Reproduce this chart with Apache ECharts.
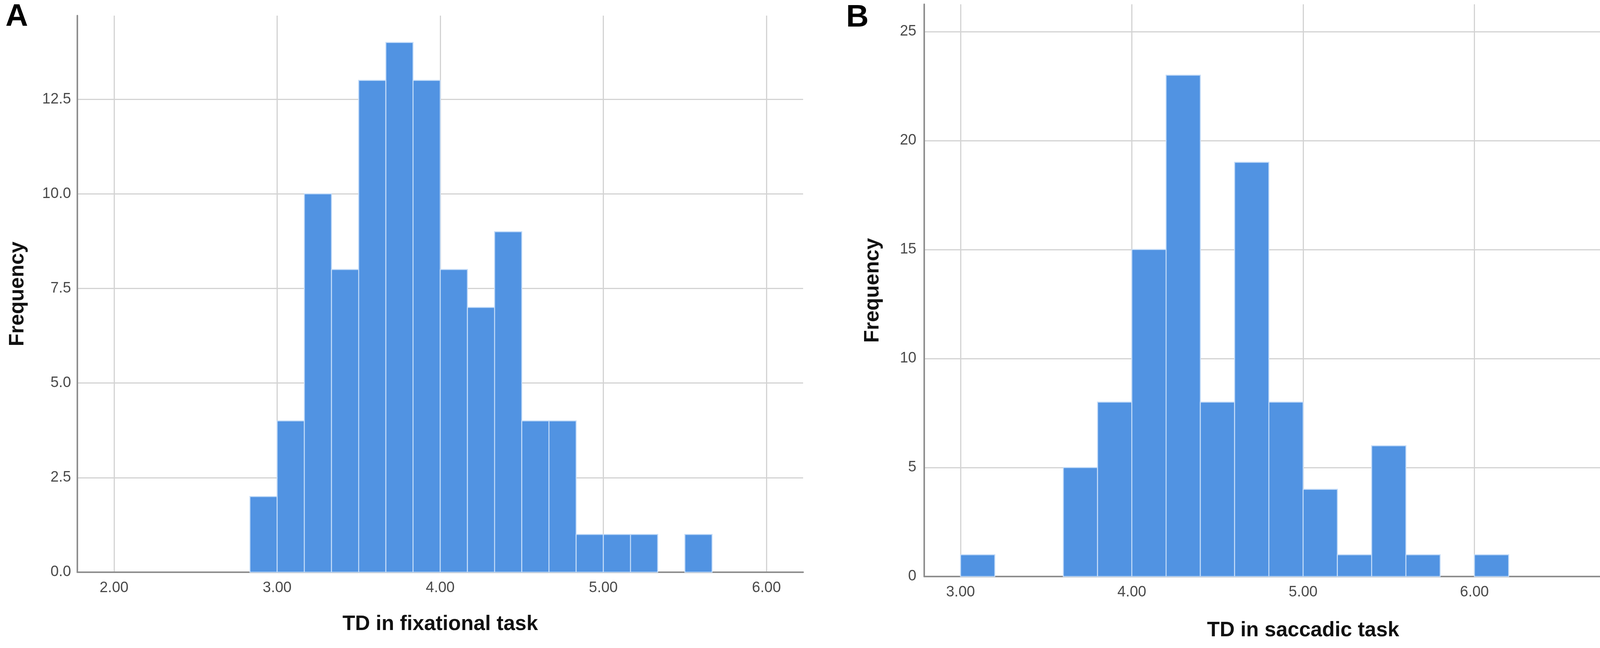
<!DOCTYPE html>
<html>
<head>
<meta charset="utf-8">
<script src="https://cdn.jsdelivr.net/npm/echarts@6/dist/echarts.min.js"></script>
<style>
  html, body { margin: 0; padding: 0; background: #fff; }
  #chart { width: 4328px; height: 1659px; }
</style>
</head>
<body>
<div id="chart"></div>
<script>
(function() {
  // --- data ---
  // A: fixational task, bin width 1/6
  var edgesA = [2.8333, 3.0, 3.1667, 3.3333, 3.5, 3.6667, 3.8333, 4.0, 4.1667,
                4.3333, 4.5, 4.6667, 4.8333, 5.0, 5.1667, 5.3333, 5.5, 5.6667];
  var countsA = [2, 4, 10, 8, 13, 14, 13, 8, 7, 9, 4, 4, 1, 1, 1, 0, 1];
  // B: saccadic task, bin width 0.2
  var edgesB = [3.0, 3.2, 3.4, 3.6, 3.8, 4.0, 4.2, 4.4, 4.6, 4.8, 5.0,
                5.2, 5.4, 5.6, 5.8, 6.0, 6.2];
  var countsB = [1, 0, 0, 5, 8, 15, 23, 8, 19, 8, 4, 1, 6, 1, 0, 1];

  var panelLabels = ['A', 'B'];
  var xTitles = ['TD in fixational task', 'TD in saccadic task'];
  var yTitle = 'Frequency';

  var barColor = '#5193e2';
  var edgeColor = '#c4dcf8';
  var gridColor = '#d3d3d3';
  var axisColor = '#8e8e8e';
  var labelColor = '#4a4a4a';
  var font = 'Liberation Sans, Arial, sans-serif';

  function bins(edges, counts) {
    var out = [];
    for (var i = 0; i < counts.length; i++) {
      if (counts[i] > 0) out.push([edges[i], edges[i + 1], counts[i]]);
    }
    return out;
  }

  function renderBin(params, api) {
    var p0 = api.coord([api.value(0), 0]);
    var p1 = api.coord([api.value(1), api.value(2)]);
    return {
      type: 'rect',
      shape: { x: p0[0], y: p1[1], width: p1[0] - p0[0], height: p0[1] - p1[1] },
      style: { fill: barColor, stroke: edgeColor, lineWidth: 2.5 }
    };
  }

  function xAxis(idx, min, max) {
    return {
      type: 'value', gridIndex: idx, min: min, max: max,
      name: xTitles[idx], nameLocation: 'middle', nameGap: idx ? 112 : 107,
      nameTextStyle: { fontFamily: font, fontSize: 53, fontWeight: 'bold', color: '#111' },
      axisLine: { show: true, onZero: false, lineStyle: { color: axisColor, width: 4 } },
      axisTick: { show: false },
      axisLabel: {
        showMinLabel: false, showMaxLabel: false, margin: 22,
        fontFamily: font, fontSize: 38, color: labelColor,
        formatter: function(v) { return v.toFixed(2); }
      },
      splitLine: { show: true, showMinLine: false, showMaxLine: false,
                   lineStyle: { color: gridColor, width: 3 } }
    };
  }

  function yAxis(idx, max, interval, digits) {
    return {
      type: 'value', gridIndex: idx, min: 0, max: max, interval: interval,
      name: yTitle, nameLocation: 'middle', nameRotate: 90, nameGap: idx ? 105 : 126,
      nameTextStyle: { fontFamily: font, fontSize: 53, fontWeight: 'bold', color: '#111' },
      axisLine: { show: true, lineStyle: { color: axisColor, width: 4 } },
      axisTick: { show: false },
      axisLabel: {
        showMaxLabel: false, margin: idx ? 20 : 16,
        fontFamily: font, fontSize: 38, color: labelColor,
        formatter: function(v) { return v.toFixed(digits); }
      },
      splitLine: { show: true, showMaxLine: false,
                   lineStyle: { color: gridColor, width: 3 } }
    };
  }

  var chart = echarts.init(document.getElementById('chart'), null, { renderer: 'canvas' });
  chart.setOption({
    animation: false,
    backgroundColor: '#fff',
    graphic: [
      { type: 'text', left: 14, top: 4,
        style: { text: panelLabels[0], fontFamily: font, fontSize: 80, fontWeight: 'bold', fill: '#000' } },
      { type: 'text', left: 2166, top: 6,
        style: { text: panelLabels[1], fontFamily: font, fontSize: 80, fontWeight: 'bold', fill: '#000' } }
    ],
    grid: [
      { left: 198, right: 2272, top: 40, bottom: 194 },
      { left: 2366, right: 22, top: 11, bottom: 183 }
    ],
    xAxis: [xAxis(0, 1.775, 6.225), xAxis(1, 2.788, 7.212)],
    yAxis: [yAxis(0, 14.71, 2.5, 1), yAxis(1, 26.25, 5, 0)],
    series: [
      { type: 'custom', xAxisIndex: 0, yAxisIndex: 0, renderItem: renderBin,
        encode: { x: [0, 1], y: 2 }, data: bins(edgesA, countsA) },
      { type: 'custom', xAxisIndex: 1, yAxisIndex: 1, renderItem: renderBin,
        encode: { x: [0, 1], y: 2 }, data: bins(edgesB, countsB) }
    ]
  });
  window.addEventListener('resize', function() { chart.resize(); });
})();
</script>
</body>
</html>
